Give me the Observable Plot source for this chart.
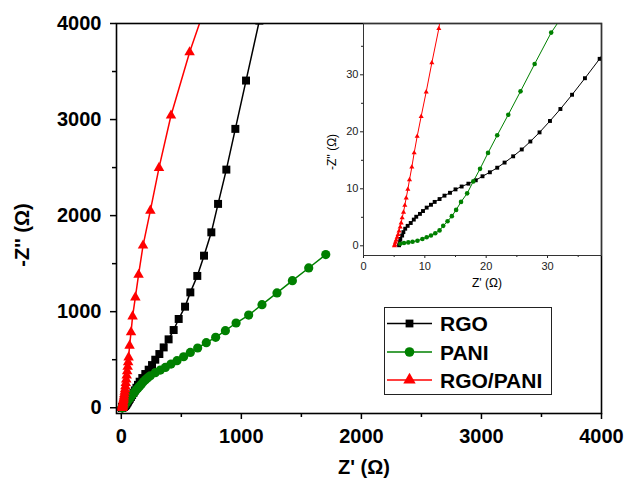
<!DOCTYPE html>
<html><head><meta charset="utf-8">
<script src="https://cdn.jsdelivr.net/npm/d3@7"></script>
<script src="https://cdn.jsdelivr.net/npm/@observablehq/plot@0.6"></script>
<style>
body{margin:0;background:#fff;}
#wrap{position:relative;width:626px;height:479px;overflow:hidden;font-family:"Liberation Sans",Arial,sans-serif;}
#wrap svg{position:absolute;}
.t{position:absolute;white-space:nowrap;transform:translate(-50%,-50%);color:#000;}
</style></head><body><div id="wrap"></div>
<script>
// ---------- data ----------
const series = ["RGO", "PANI", "RGO/PANI"];
const colors = ["#000000", "#008000", "#ff0000"];
const symbols = ["square", "circle", "triangle"];

const rgoX = [5.8,5.9,6.0,6.3,6.5,6.8,7.2,7.7,8.2,8.6,9.2,9.7,10.3,11.0,11.6,12.4,13.2,14.1,15.0,16.0,17.1,18.3,19.4,20.6,21.8,23.0,24.4,25.8,27.2,28.7,30.4,32.1,34.0,36.1,38.5,
  41,45,50,56,63,71,80,90,101,113,126,139,153,175,200,228,256,283,317,353,394,436,478,531,575,633,689,750,806,875,950,1039,1150];
const rgoY = [0.1,0.6,1.2,1.8,2.4,3.0,3.5,4.0,4.6,5.1,5.6,6.1,6.7,7.2,7.7,8.2,8.8,9.3,9.9,10.4,10.9,11.5,12.2,12.9,13.7,14.6,15.7,16.9,18.3,19.9,21.9,24.0,26.5,29.4,32.8,
  37,44,53,64,78,94,112,132,154,180,208,238,271,309,351,396,444,500,559,628,712,809,924,1052,1201,1372,1583,1826,2122,2479,2903,3406,4030];

const paniX = [6.0,6.6,7.3,8.0,8.8,9.6,10.3,11.0,11.7,12.4,13.0,13.7,14.4,15.1,15.9,16.9,17.9,19.0,20.3,21.8,23.6,25.6,27.9,30.6,
  33.5,37,41,46,52,59,67,76,86,97,109,122,136,151,167,184,202,221,242,283,325,367,414,464,519,575,636,708,786,867,956,1061,1172,1297,1425,1561,1703];
const paniY = [0.35,0.5,0.6,0.7,0.9,1.2,1.5,1.8,2.2,2.7,3.5,4.3,5.2,6.3,7.7,9.2,11.3,13.5,16.3,19.4,23.0,27.1,31.9,37.4,
  42,48,55,63,73,84,97,111,127,144,162,181,201,222,244,270,292,313,333,365,392,420,455,490,531,576,622,677,733,802,882,965,1073,1195,1323,1455,1594];

const compX = [5.05,5.1,5.2,5.33,5.49,5.65,5.8,5.98,6.14,6.3,6.52,6.74,6.96,7.23,7.5,7.88,8.26,8.75,9.40,10.22,11.14,12.28,
  14,16,18,20,22.5,25,28,31,34,37.5,41,45,49,53,57,61,69,81,94,117,144,181,242,314,414,569,720];
const compY = [0,0.2,0.6,1.0,1.5,2.0,2.6,3.3,4.0,4.9,5.9,7.1,8.4,9.9,11.6,13.8,16.3,19.2,22.7,27.0,32.1,38.1,
  50,64,80,97,118,140,166,194,224,258,294,336,380,426,474,524,646,785,951,1149,1385,1688,2052,2497,3042,3701,4250];

const mainXTicks = [0, 1000, 2000, 3000, 4000];
const mainXMinor = [500, 1500, 2500, 3500];
const mainYTicks = [0, 1000, 2000, 3000, 4000];
const mainYMinor = [500, 1500, 2500, 3500];
const insetXTicks = [0, 10, 20, 30];
const insetXMinor = [5, 15, 25, 35];
const insetYTicks = [0, 10, 20, 30];
const insetYMinor = [5, 15, 25, 35];

// ---------- build ----------
const xs = [rgoX, paniX, compX], ys = [rgoY, paniY, compY];
const data = series.map((s, i) => xs[i].map((x, j) => ({s, x, y: ys[i][j]})));
const FONT = '"Liberation Sans", Arial, sans-serif';
const wrap = document.getElementById("wrap");
const fmt = d => String(d);

const mainR = [4.5, 4.6, 3.9];
const insetR = [2.2, 2.3, 1.9];

function seriesMarks(rs, sw) {
  const m = [];
  data.forEach((d, i) => {
    m.push(Plot.line(d, {x: "x", y: "y", stroke: colors[i], strokeWidth: sw, clip: true}));
    m.push(Plot.dot(d, {x: "x", y: "y", symbol: symbols[i], fill: colors[i], stroke: "none", r: rs[i], clip: true}));
  });
  return m;
}

const main = Plot.plot({
  width: 626, height: 479,
  marginLeft: 116, marginRight: 25, marginTop: 23, marginBottom: 66,
  x: {domain: [-40, 4000], label: null},
  y: {domain: [-60, 4000], label: null},
  style: {fontFamily: FONT, fontSize: "20px", fontWeight: "bold", color: "#000", background: "#fff"},
  marks: [
    ...seriesMarks(mainR, 1.5),
    Plot.axisX(mainXTicks, {tickSize: 6, tickPadding: 9, tickFormat: fmt, fontSize: 20, fontWeight: "bold", label: null, strokeWidth: 1.5}),
    Plot.axisX(mainXMinor, {tickSize: 4, tickFormat: () => "", label: null, strokeWidth: 1.5}),
    Plot.axisY(mainYTicks, {tickSize: 6, tickPadding: 9, tickFormat: fmt, fontSize: 20, fontWeight: "bold", label: null, strokeWidth: 1.5}),
    Plot.axisY(mainYMinor, {tickSize: 4, tickFormat: () => "", label: null, strokeWidth: 1.5}),
    Plot.frame({stroke: "#000", strokeWidth: 1.6})
  ]
});
main.style.left = "0px"; main.style.top = "0px";
wrap.appendChild(main);

const inset = Plot.plot({
  width: 326, height: 300,
  marginLeft: 63, marginRight: 25, marginTop: 23, marginBottom: 45,
  x: {domain: [0, 38.8], label: null},
  y: {domain: [-1.7, 39], label: null},
  style: {fontFamily: FONT, fontSize: "11px", fontWeight: "normal", color: "#222", background: "transparent"},
  marks: [
    ...seriesMarks(insetR, 1),
    Plot.axisX(insetXTicks, {tickSize: 3, tickPadding: 4, tickFormat: fmt, fontSize: 11, label: null}),
    Plot.axisX(insetXMinor, {tickSize: 2, tickFormat: () => "", label: null}),
    Plot.axisY(insetYTicks, {tickSize: 3, tickPadding: 2, tickFormat: fmt, fontSize: 11, label: null}),
    Plot.axisY(insetYMinor, {tickSize: 2, tickFormat: () => "", label: null}),
    Plot.frame({stroke: "#333", strokeWidth: 1})
  ]
});
inset.style.left = "300px"; inset.style.top = "0px";
wrap.appendChild(inset);

// ---------- legend ----------
const leg = d3.create("svg").attr("width", 626).attr("height", 479)
  .style("left", "0px").style("top", "0px").style("background", "transparent");
leg.append("rect").attr("x", 384.5).attr("y", 307.5).attr("width", 167).attr("height", 87)
  .attr("fill", "#fff").attr("stroke", "#222").attr("stroke-width", 1);
const symMap = {square: d3.symbolSquare, circle: d3.symbolCircle, triangle: d3.symbolTriangle};
const legY = [323.5, 352, 380];
const legR = [4.4, 4.8, 4.6];
series.forEach((s, i) => {
  const g = leg.append("g");
  g.append("line").attr("x1", 387).attr("x2", 432).attr("y1", legY[i]).attr("y2", legY[i])
    .attr("stroke", colors[i]).attr("stroke-width", 1.5);
  g.append("path").attr("transform", `translate(409.5,${legY[i]})`)
    .attr("d", d3.symbol(symMap[symbols[i]], Math.PI * legR[i] * legR[i])())
    .attr("fill", colors[i]);
  g.append("text").attr("x", 440).attr("y", legY[i]).attr("dy", "0.36em")
    .attr("font-family", FONT).attr("font-size", 21).attr("font-weight", "bold").attr("fill", "#000")
    .text(s);
});
wrap.appendChild(leg.node());

// ---------- titles ----------
function addText(txt, x, y, size, weight, rot) {
  const d = document.createElement("div");
  d.className = "t";
  d.textContent = txt;
  d.style.left = x + "px"; d.style.top = y + "px";
  d.style.fontSize = size + "px"; d.style.fontWeight = weight;
  if (rot) d.style.transform = "translate(-50%,-50%) rotate(-90deg)";
  wrap.appendChild(d);
}
addText("Z' (\u03A9)", 364, 467, 20, "bold", false);
addText("-Z'' (\u03A9)", 22, 235, 20, "bold", true);
addText("Z' (\u03A9)", 487, 283, 12, "normal", false);
addText("-Z'' (\u03A9)", 332, 152, 12, "normal", true);
</script></body></html>
